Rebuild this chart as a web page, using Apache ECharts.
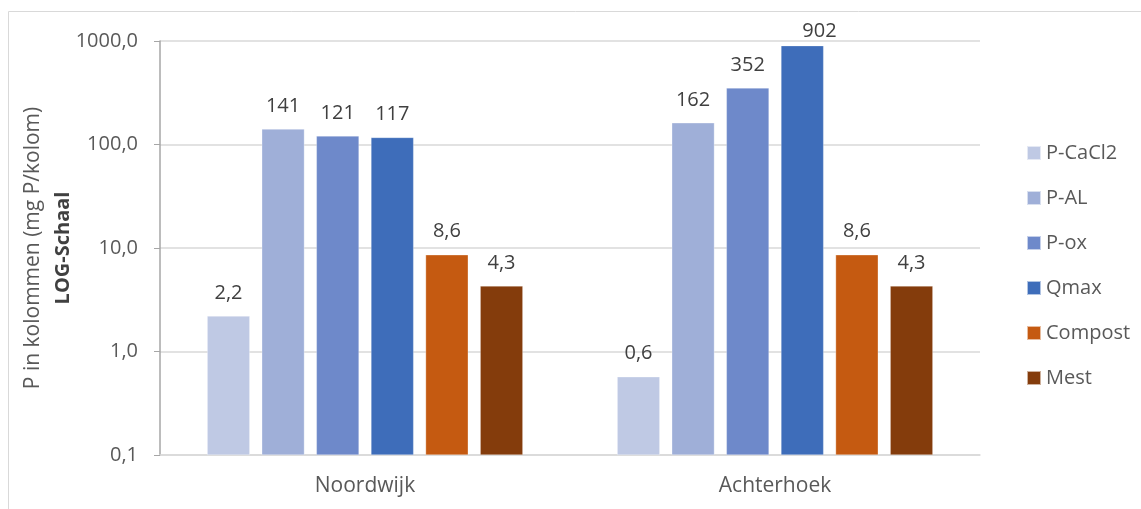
<!DOCTYPE html>
<html>
<head>
<meta charset="utf-8">
<script src="https://cdn.jsdelivr.net/npm/echarts@6/dist/echarts.min.js"></script>
<style>
  html, body { margin: 0; padding: 0; background: #fff; }
  #chart { width: 1141px; height: 509px; }
</style>
</head>
<body>
<div id="chart"></div>
<script>
// data
var categories = ['Noordwijk', 'Achterhoek'];
var seriesNames = ['P-CaCl2', 'P-AL', 'P-ox', 'Qmax', 'Compost', 'Mest'];
var pCaCl2 = [2.2, 0.57];
var pAL = [141, 162];
var pOx = [121, 352];
var qmax = [117, 902];
var compost = [8.6, 8.6];
var mest = [4.3, 4.3];

var seriesData = [pCaCl2, pAL, pOx, qmax, compost, mest];
var colors = ['#bfc9e4', '#9fafd8', '#6e89ca', '#3e6dba', '#c55a11', '#843c0c'];
var font = '"Open Sans", "Noto Sans", sans-serif';

// Nederlandse notatie: 1 decimaal met komma onder 100, anders geheel getal
function fmt(v) {
    if (v >= 100) return String(Math.round(v));
    return v.toFixed(1).replace('.', ',');
}

var chart = echarts.init(document.getElementById('chart'));

var series = seriesNames.map(function (name, i) {
    return {
        name: name,
        type: 'bar',
        data: seriesData[i],
        barGap: '28%',
        barCategoryGap: '23%',
        itemStyle: { color: colors[i], borderColor: 'rgba(255,255,255,0.6)', borderWidth: 0.5 },
        label: {
            show: true,
            position: 'top',
            distance: 13,
            color: '#404040',
            fontFamily: font,
            fontSize: 20,
            formatter: function (p) { return fmt(p.value); }
        },
        // net als Excel: label dat boven de grafiek uitsteekt omlaag schuiven
        labelLayout: function (p) {
            if (p.labelRect.y < 20) return { y: 21 };
            return {};
        }
    };
});

chart.setOption({
    animation: false,
    textStyle: { fontFamily: font },
    graphic: [{
        type: 'rect',
        shape: { x: 8.5, y: 11.5, width: 1200, height: 600 },
        style: { fill: 'none', stroke: '#d9d9d9', lineWidth: 1 },
        silent: true,
        z: -1
    }],
    grid: { left: 160, right: 161, top: 41, bottom: 54, containLabel: false },
    legend: {
        orient: 'vertical',
        left: 1021,
        top: 138,
        itemWidth: 14,
        itemHeight: 14,
        itemGap: 25,
        icon: 'rect',
        textStyle: { color: '#595959', fontSize: 20, fontFamily: font },
        data: seriesNames
    },
    xAxis: {
        type: 'category',
        data: categories,
        axisLine: { lineStyle: { color: '#d9d9d9', width: 1.5 } },
        axisTick: { show: false },
        axisLabel: { color: '#595959', fontSize: 21, fontFamily: font, margin: 21 }
    },
    yAxis: {
        type: 'log',
        logBase: 10,
        min: 0.1,
        max: 1000,
        startValue: 0.1,
        name: '{a|P in kolommen (mg P/kolom)}\n{b|LOG-Schaal}',
        nameLocation: 'middle',
        nameGap: 82,
        nameMoveOverlap: false,
        nameRotate: 90,
        nameTextStyle: {
            fontSize: 21,
            fontFamily: font,
            rich: {
                a: { color: '#595959', fontSize: 21, fontFamily: font, lineHeight: 30 },
                b: { color: '#404040', fontSize: 20, fontWeight: 'bold', fontFamily: font, lineHeight: 30 }
            }
        },
        axisLine: { show: true, lineStyle: { color: '#a6a6a6', width: 1.5 } },
        axisTick: { show: true, inside: false, length: 6, lineStyle: { color: '#a6a6a6' } },
        splitLine: { lineStyle: { color: '#d9d9d9', width: 1.5 } },
        axisLabel: {
            color: '#595959',
            fontSize: 20,
            fontFamily: font,
            margin: 22,
            formatter: function (v) { return v.toFixed(1).replace('.', ','); }
        }
    },
    series: series
});
</script>
</body>
</html>
